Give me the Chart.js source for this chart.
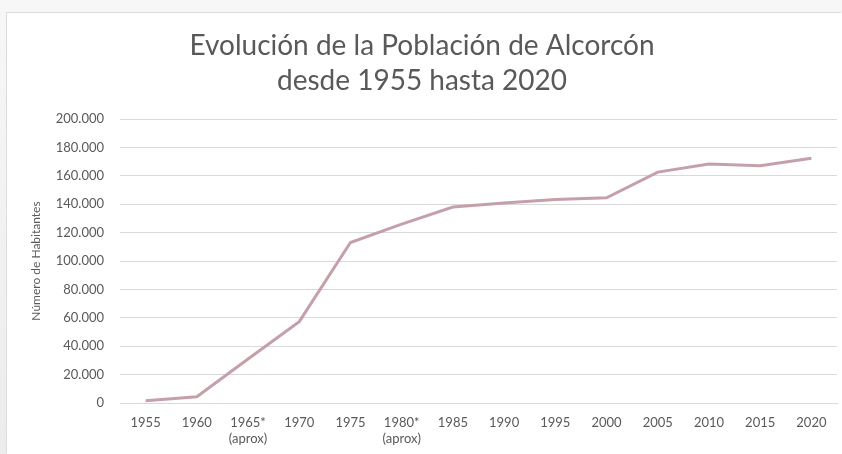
<!DOCTYPE html>
<html>
<head>
<meta charset="utf-8">
<script src="https://cdn.jsdelivr.net/npm/chart.js@4"></script>
<style>
  html, body { margin: 0; padding: 0; width: 842px; height: 454px; overflow: hidden;
    background: linear-gradient(#f7f7f7, #ececec); }
  #wrap { position: absolute; left: 7px; top: 13px; width: 835px; height: 441px; background: #fff;
    box-shadow: -1px -1px 0 #dcdcdc; }
  canvas { display: block; }
</style>
</head>
<body>
<div id="wrap"><canvas id="c" width="835" height="441"></canvas></div>
<script>
const categories = [["1955"], ["1960"], ["1965*", "(aprox)"], ["1970"], ["1975"], ["1980*", "(aprox)"], ["1985"], ["1990"], ["1995"], ["2000"], ["2005"], ["2010"], ["2015"], ["2020"]];
const population = [1500, 4400, 31000, 57300, 113000, 126000, 138000, 140800, 143300, 144500, 162600, 168300, 167100, 172300];
const titleLines = ["Evolución de la Población de Alcorcón", "desde 1955 hasta 2020"];
const yAxisTitle = "Número de Habitantes";

const fmt = v => String(v).replace(/\B(?=(\d{3})+(?!\d))/g, ".");

new Chart(document.getElementById('c'), {
  type: 'line',
  data: {
    labels: categories,
    datasets: [{
      data: population,
      borderColor: '#c4a1a9',
      borderWidth: 3,
      pointRadius: 0,
      tension: 0,
      fill: false
    }]
  },
  options: {
    responsive: false,
    animation: false,
    layout: { padding: { left: 0, right: 5, top: 0, bottom: 0 } },
    plugins: {
      legend: { display: false },
      tooltip: { enabled: false },
      title: {
        display: true,
        text: titleLines,
        color: '#595959',
        font: { family: 'Lato', size: 28, weight: 'normal', lineHeight: 1.25 },
        padding: { top: 15, bottom: 21 }
      }
    },
    scales: {
      x: {
        offset: true,
        grid: { display: false, drawTicks: false },
        border: { display: true, color: '#d9d9d9', width: 1 },
        ticks: { color: '#595959', font: { family: 'Lato', size: 13 }, padding: 12, maxRotation: 0, autoSkip: false },
        afterFit: s => { s.height = 51; }
      },
      y: {
        min: 0, max: 200000,
        grid: { color: '#d9d9d9', lineWidth: 1, drawTicks: false },
        border: { display: false },
        ticks: { stepSize: 20000, color: '#595959', font: { family: 'Lato', size: 13 }, padding: 16, callback: v => fmt(v) },
        title: { display: true, text: yAxisTitle, color: '#595959', font: { family: 'Lato', size: 12 }, padding: { top: 22, bottom: 0 } },
        afterFit: s => { s.width = 113; }
      }
    }
  }
});
</script>
</body>
</html>
